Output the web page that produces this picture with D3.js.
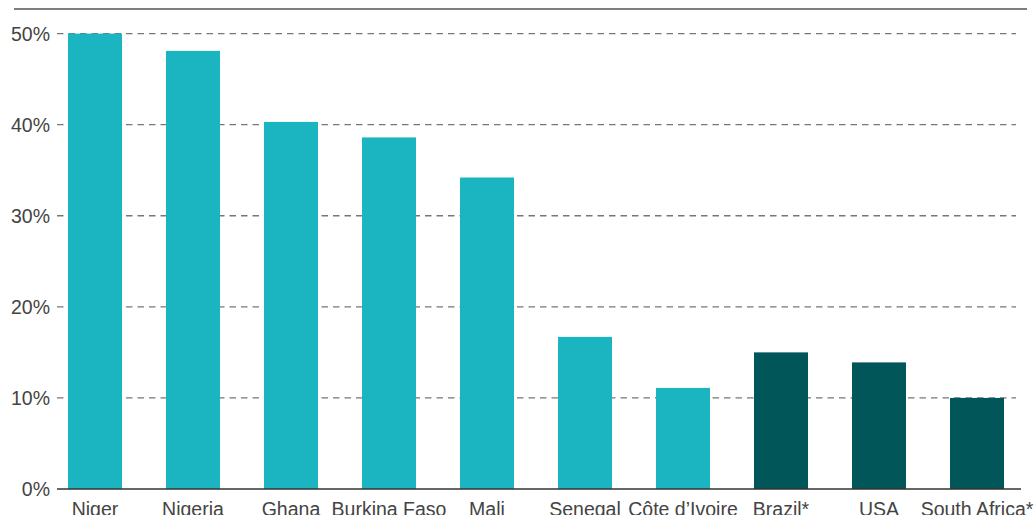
<!DOCTYPE html>
<html>
<head>
<meta charset="utf-8">
<script src="https://cdn.jsdelivr.net/npm/d3@7"></script>
<style>
  html, body { margin: 0; padding: 0; background: #fff; }
  svg { display: block; }
  text { font-family: "Liberation Sans", Arial, sans-serif; font-weight: normal; fill: #444; }
</style>
</head>
<body>
<svg id="chart" width="1035" height="515"></svg>
<script>
const categories = ["Niger", "Nigeria", "Ghana", "Burkina Faso", "Mali", "Senegal", "Côte d’Ivoire", "Brazil*", "USA", "South Africa*"];
const values = [50, 48.1, 40.3, 38.6, 34.2, 16.7, 11.1, 15.0, 13.9, 10.0];
const groups = ["africa", "africa", "africa", "africa", "africa", "africa", "africa", "other", "other", "other"];
const tickValues = [0, 10, 20, 30, 40, 50];
const tickLabels = ["0%", "10%", "20%", "30%", "40%", "50%"];

const colors = { africa: "#1bb4c1", other: "#01565a" };

const svg = d3.select("#chart");

const y = d3.scaleLinear().domain([0, 50]).range([489, 33.6]);
const x = d3.scaleBand().domain(categories).range([68, 1004]).paddingInner(0.449).paddingOuter(0);

// top rule
svg.append("line")
  .attr("x1", 14).attr("x2", 1027).attr("y1", 9).attr("y2", 9)
  .attr("stroke", "#555").attr("stroke-width", 1.5);

// gridlines
svg.append("g").selectAll("line")
  .data(tickValues.filter(d => d > 0))
  .join("line")
  .attr("x1", 57).attr("x2", 1016)
  .attr("y1", d => y(d)).attr("y2", d => y(d))
  .attr("stroke", "#777").attr("stroke-width", 1.3)
  .attr("stroke-dasharray", "6.5,5");

// y tick labels
svg.append("g").selectAll("text")
  .data(tickValues)
  .join("text")
  .attr("x", 50).attr("y", d => y(d))
  .attr("text-anchor", "end")
  .attr("dominant-baseline", "central")
  .attr("font-size", 19.5)
  .text((d, i) => tickLabels[i]);

// bars
svg.append("g").selectAll("rect")
  .data(categories)
  .join("rect")
  .attr("x", d => x(d))
  .attr("width", x.bandwidth())
  .attr("y", (d, i) => y(values[i]))
  .attr("height", (d, i) => y(0) - y(values[i]))
  .attr("fill", (d, i) => colors[groups[i]]);

// baseline
svg.append("line")
  .attr("x1", 57).attr("x2", 1021).attr("y1", y(0)).attr("y2", y(0))
  .attr("stroke", "#333").attr("stroke-width", 1.6);

// x labels
svg.append("g").selectAll("text")
  .data(categories)
  .join("text")
  .attr("x", d => x(d) + x.bandwidth() / 2)
  .attr("y", 515.5)
  .attr("text-anchor", "middle")
  .attr("font-size", 19.5)
  .text(d => d);
</script>
</body>
</html>
